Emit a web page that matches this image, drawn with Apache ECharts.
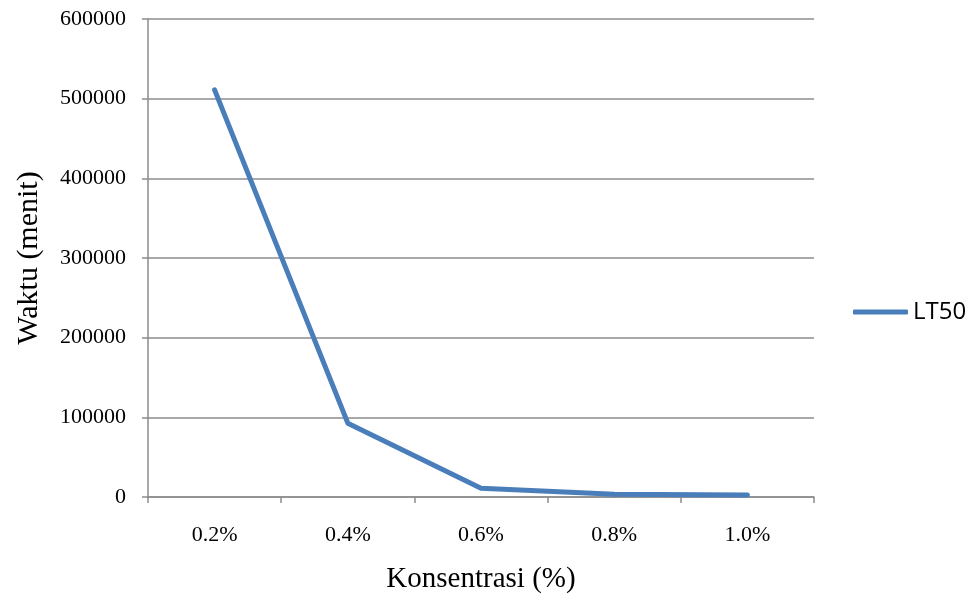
<!DOCTYPE html>
<html>
<head>
<meta charset="utf-8">
<script src="https://cdn.jsdelivr.net/npm/echarts@6/dist/echarts.min.js"></script>
<style>
html,body{margin:0;padding:0;background:#fff;}
#chart{width:979px;height:603px;}
</style>
</head>
<body>
<div id="chart"></div>
<script>
// Konsentrasi vs. LT50 time (minutes)
const categories = ['0.2%', '0.4%', '0.6%', '0.8%', '1.0%'];
const lt50 = [511000, 92700, 11000, 3300, 2500];
const yTicks = { min: 0, max: 600000, interval: 100000 };

const chart = echarts.init(document.getElementById('chart'), null, { renderer: 'canvas' });
const serif = '"Liberation Serif", "Times New Roman", serif';
const axisGray = '#8c8c8c';

chart.setOption({
  animation: false,
  backgroundColor: '#fff',
  grid: { left: 148, right: 165, top: 19, bottom: 106, containLabel: false },
  legend: {
    left: 853,
    top: 300,
    padding: 0,
    itemWidth: 55,
    itemHeight: 5,
    icon: 'roundRect',
    itemGap: 0,
    data: [{ name: 'LT50' }],
    textStyle: { fontFamily: '"Open Sans", sans-serif', fontSize: 24, color: '#000' }
  },
  xAxis: {
    type: 'category',
    data: categories,
    boundaryGap: true,
    name: 'Konsentrasi (%)',
    nameLocation: 'middle',
    nameGap: 68,
    nameTextStyle: { fontFamily: serif, fontSize: 29, color: '#000' },
    axisLine: { lineStyle: { color: axisGray, width: 1.5 } },
    axisTick: { show: true, length: 6, lineStyle: { color: axisGray, width: 1.5 }, alignWithLabel: false },
    axisLabel: { fontFamily: serif, fontSize: 22, color: '#000', margin: 27 },
    splitLine: { show: false }
  },
  yAxis: {
    type: 'value',
    min: yTicks.min,
    max: yTicks.max,
    interval: yTicks.interval,
    name: 'Waktu (menit)',
    nameLocation: 'middle',
    nameGap: 104,
    nameTextStyle: { fontFamily: serif, fontSize: 30, color: '#000' },
    axisLine: { show: true, lineStyle: { color: axisGray, width: 1.5 } },
    axisTick: { show: true, length: 6, inside: false, lineStyle: { color: axisGray, width: 1.5 } },
    axisLabel: { fontFamily: serif, fontSize: 22, color: '#000', margin: 22, formatter: v => String(v) },
    splitLine: { show: true, lineStyle: { color: axisGray, width: 1.5 } }
  },
  series: [{
    name: 'LT50',
    type: 'line',
    data: lt50,
    symbol: 'none',
    lineStyle: { color: '#4a7ebb', width: 5, cap: 'round', join: 'round' },
    itemStyle: { color: '#4a7ebb' }
  }]
});
</script>
</body>
</html>
